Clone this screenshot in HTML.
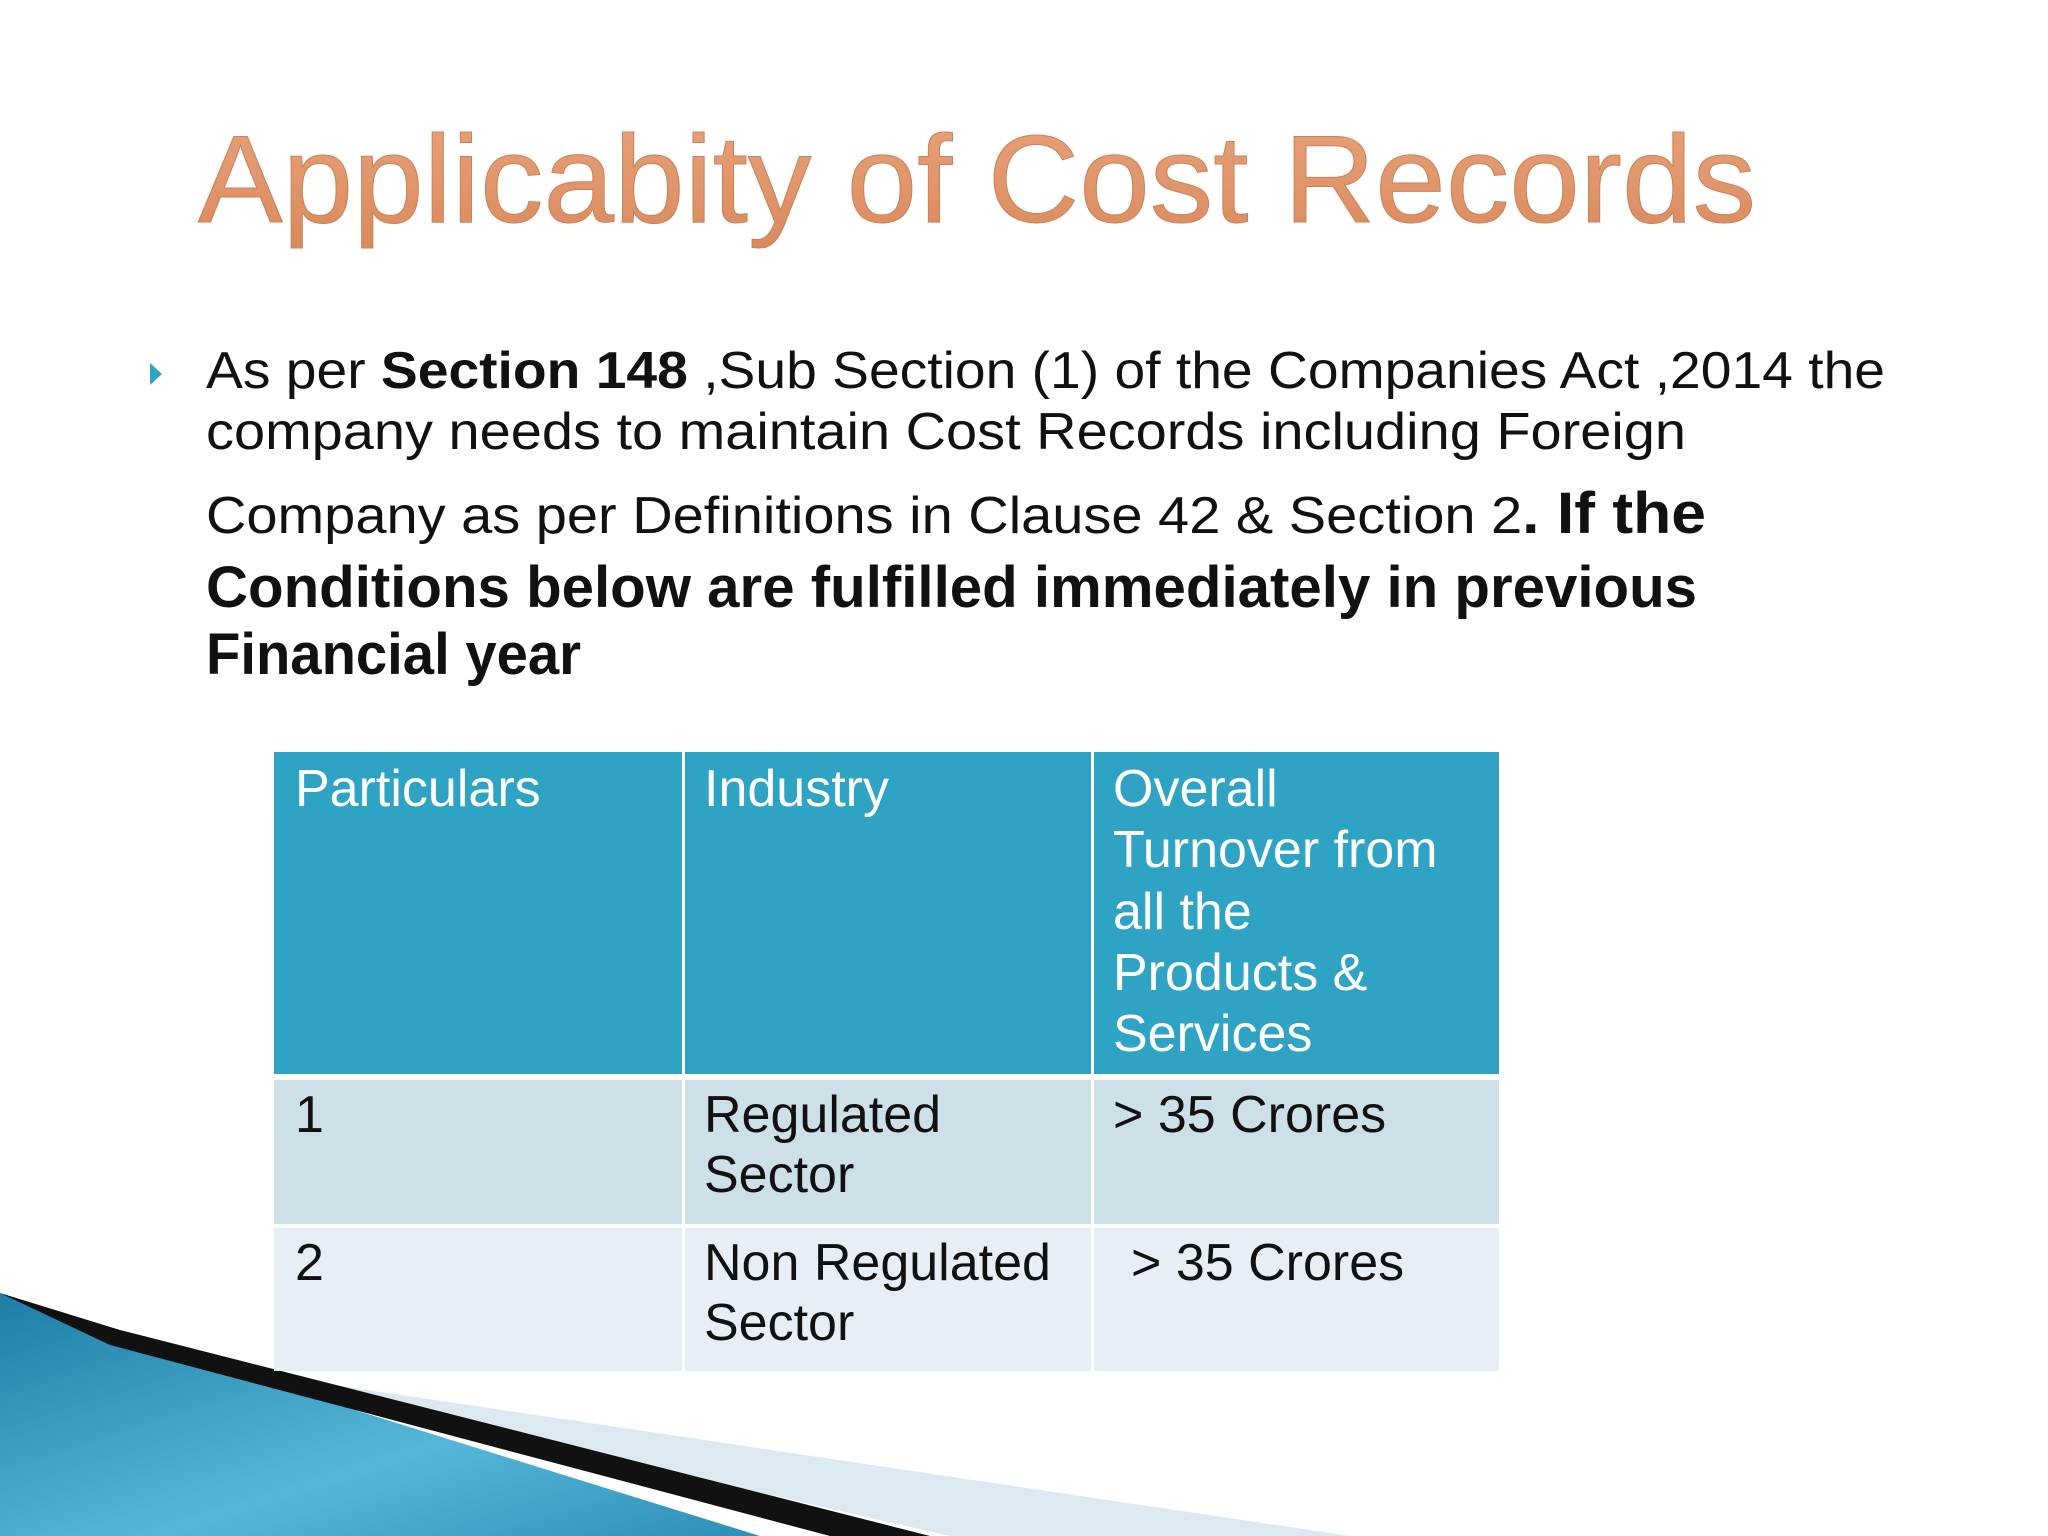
<!DOCTYPE html>
<html><head><meta charset="utf-8"><style>
html,body{margin:0;padding:0;background:#fff;}
svg{display:block;}
text{font-family:"Liberation Sans",sans-serif;}
</style></head><body>
<svg width="2048" height="1536" viewBox="0 0 2048 1536">
<defs>
<linearGradient id="tg" x1="0" y1="0" x2="0" y2="1"><stop offset="0" stop-color="#e9a27a"/><stop offset="1" stop-color="#d98a5c"/></linearGradient>
<linearGradient id="bg" x1="0" y1="0" x2="1" y2="1"><stop offset="0" stop-color="#1d7ea6"/><stop offset="0.6" stop-color="#55b7d8"/><stop offset="1" stop-color="#2c8fb8"/></linearGradient>
</defs>
<rect width="2048" height="1536" fill="#ffffff"/>
<g>
<polygon points="200,1365 1350,1536 950,1536" fill="#dde9f0"/>
<polygon points="0,1293 104,1332 760,1536 0,1536" fill="url(#bg)"/>
<polygon points="0,1293 120,1330 930,1536 830,1536 110,1345" fill="#111"/>
</g>
<text x="198" y="222" font-size="124" fill="url(#tg)" stroke="#c9825a" stroke-width="1" textLength="1558" lengthAdjust="spacingAndGlyphs">Applicabity of Cost Records</text>
<polygon points="150,363 162,374 150,385" fill="#2ea3c3"/>
<g fill="#111" font-size="52">
<text x="206" y="388" textLength="1679" lengthAdjust="spacingAndGlyphs">As per <tspan font-weight="bold">Section 148</tspan> ,Sub Section (1) of the Companies Act ,2014 the</text>
<text x="206" y="449" textLength="1480" lengthAdjust="spacingAndGlyphs">company needs to maintain Cost Records including Foreign</text>
<text x="206" y="533" textLength="1500" lengthAdjust="spacingAndGlyphs">Company as per Definitions in Clause 42 &amp; Section 2<tspan font-weight="bold" font-size="58">. If the</tspan></text>
<text x="206" y="607" font-size="58" font-weight="bold" textLength="1491" lengthAdjust="spacingAndGlyphs">Conditions below are fulfilled immediately in previous</text>
<text x="206" y="674" font-size="58" font-weight="bold" textLength="375" lengthAdjust="spacingAndGlyphs">Financial year</text>
</g>
<g>
<rect x="274" y="752" width="1225" height="322" fill="#2ea3c3"/>
<rect x="274" y="1080" width="1225" height="144" fill="#cde0e8"/>
<rect x="274" y="1228" width="1225" height="143" fill="#e8eef5"/>
<rect x="682" y="752" width="3" height="619" fill="#fff"/>
<rect x="1091" y="752" width="3" height="619" fill="#fff"/>
<g fill="#fff" font-size="52">
<text x="295" y="806">Particulars</text>
<text x="704" y="806">Industry</text>
<text x="1113" y="806">Overall</text>
<text x="1113" y="867">Turnover from</text>
<text x="1113" y="929">all the</text>
<text x="1113" y="990">Products &amp;</text>
<text x="1113" y="1051">Services</text>
</g>
<g fill="#111" font-size="52">
<text x="295" y="1132">1</text>
<text x="704" y="1132">Regulated</text>
<text x="704" y="1192">Sector</text>
<text x="1113" y="1132">&gt; 35 Crores</text>
<text x="295" y="1280">2</text>
<text x="704" y="1280">Non Regulated</text>
<text x="704" y="1340">Sector</text>
<text x="1131" y="1280">&gt; 35 Crores</text>
</g>
</g>
</svg>
</body></html>
